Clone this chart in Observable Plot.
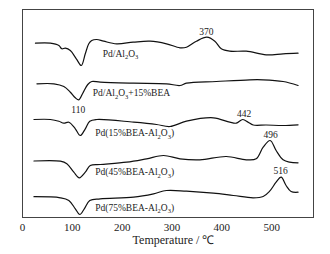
<!DOCTYPE html>
<html>
<head>
<meta charset="utf-8">
<script src="https://cdn.jsdelivr.net/npm/d3@7"></script>
<script src="https://cdn.jsdelivr.net/npm/@observablehq/plot@0.6"></script>
<style>
  html, body { margin: 0; padding: 0; background: #fff; }
  #chart svg { display: block; }
</style>
</head>
<body>
<div id="chart"></div>
<script>
// Temperature (°C) and signal (a.u., stacked curves)
const t1 = [26, 56, 73, 79, 86, 96, 108, 118, 126, 133, 139, 149, 163, 189, 222, 256, 289, 316, 329, 349, 370, 386, 399, 416, 449, 489, 523, 553];
const s1 = [174.3, 174.3, 172, 168.7, 169.3, 167, 158.7, 152, 163.7, 173.7, 177, 178, 176.3, 173.7, 175.3, 176.3, 173.7, 169.7, 170.3, 176.3, 180.3, 176.3, 168.7, 166.3, 166.3, 162.7, 163.7, 164.3];

const t2 = [29, 63, 83, 96, 106, 113, 121, 131, 139, 156, 223, 289, 316, 329, 389, 456, 483, 523, 553];
const s2 = [133.7, 133.7, 131, 125.3, 119.7, 117.7, 124.3, 133, 136, 135.3, 134.3, 133.7, 132, 134.3, 136, 137.7, 137.7, 136, 132];

const t3 = [23, 56, 73, 83, 93, 106, 116, 126, 135, 149, 223, 269, 296, 329, 383, 416, 429, 442, 453, 463, 489, 523, 553];
const s3 = [98, 98, 96.3, 94.3, 95.3, 88.7, 82, 88.7, 96.3, 98, 95.3, 93, 91, 96.3, 99.7, 95.3, 94.3, 98, 95.3, 92.5, 92.5, 92, 92.7];

const t4 = [23, 76, 89, 103, 114, 126, 136, 156, 209, 249, 283, 316, 356, 409, 449, 469, 483, 497, 509, 523, 536, 553];
const s4 = [56.5, 56.3, 53.7, 45.3, 39.7, 45.3, 52, 53, 55.3, 58.7, 62, 58.7, 57.7, 61, 57.7, 58.7, 70.3, 77, 67, 57.7, 55.3, 54.7];

const t5 = [23, 76, 93, 106, 115, 124, 135, 156, 223, 263, 289, 329, 383, 423, 463, 483, 496, 509, 519, 529, 539, 553];
const s5 = [20.8, 19.7, 17, 8.7, 3, 8.7, 17, 18.7, 20.3, 23.7, 27, 26.3, 24.3, 22, 19.7, 21, 26.3, 35.3, 40.3, 32, 26, 25.3];

const seriesNames = ["Pd/Al2O3", "Pd/Al2O3+15%BEA", "Pd(15%BEA-Al2O3)", "Pd(45%BEA-Al2O3)", "Pd(75%BEA-Al2O3)"];
const seriesT = [t1, t2, t3, t4, t5];
const seriesS = [s1, s2, s3, s4, s5];

// Curve name labels (start position in data coords)
const nameX = [161, 141, 146, 146, 146];
const nameY = [163.7, 124.3, 84.3, 45.3, 9.7];

// Peak annotations
const peakLabels = ["370", "110", "442", "496", "516"];
const peakX = [369, 112, 445, 498, 518];
const peakY = [185.3, 108, 103.7, 82.7, 46.3];

const xTicks = [0, 100, 200, 300, 400, 500];
const xTitle = "Temperature / ℃";

const lineData = seriesNames.flatMap((name, i) =>
  seriesT[i].map((t, j) => ({ name, t, s: seriesS[i][j] })));
const nameData = seriesNames.map((name, i) => ({ name, x: nameX[i], y: nameY[i] }));
const peakData = peakLabels.map((label, i) => ({ label, x: peakX[i], y: peakY[i] }));

const chart = Plot.plot({
  width: 330,
  height: 254,
  marginLeft: 22,
  marginRight: 17,
  marginTop: 9,
  marginBottom: 37,
  style: { fontFamily: "'Liberation Serif', 'Times New Roman', serif", color: "#222", background: "#fff" },
  x: { domain: [0, 584] },
  y: { domain: [0, 208], axis: null },
  marks: [
    Plot.frame({ stroke: "#444", strokeWidth: 1 }),
    Plot.axisX({ ticks: xTicks, tickSize: 0, tickPadding: 6, fontSize: 11, label: null, tickFormat: d => String(d) }),
    Plot.line(lineData, { x: "t", y: "s", z: "name", stroke: "#111", strokeWidth: 1.2, curve: "catmull-rom" }),
    Plot.text(nameData, { x: "x", y: "y", text: "name", textAnchor: "start", fontSize: 9.5, fill: "#222" }),
    Plot.text(peakData, { x: "x", y: "y", text: "label", textAnchor: "middle", fontSize: 9.5, fill: "#222" }),
    Plot.text([xTitle], { frameAnchor: "bottom", dy: 26, dx: 5.5, fontSize: 12, fill: "#222" })
  ]
});

// subscripts for Al2O3
d3.select(chart).selectAll("text").each(function () {
  const el = d3.select(this);
  const txt = el.text();
  if (!txt.includes("Al2O3")) return;
  const idx = txt.indexOf("Al2O3");
  const before = txt.slice(0, idx), after = txt.slice(idx + 5);
  el.text(null);
  el.append("tspan").text(before + "Al");
  el.append("tspan").attr("font-size", 6.5).attr("dy", 2.5).text("2");
  el.append("tspan").attr("dy", -2.5).text("O");
  el.append("tspan").attr("font-size", 6.5).attr("dy", 2.5).text("3");
  el.append("tspan").attr("dy", -2.5).text(after);
});

document.getElementById("chart").appendChild(chart);
</script>
</body>
</html>
